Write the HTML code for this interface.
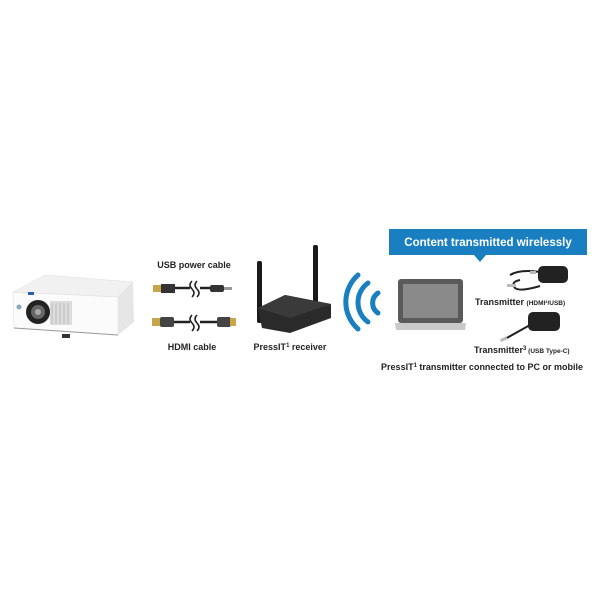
<!DOCTYPE html>
<html><head><style>
body{margin:0;background:#fff;width:600px;height:600px;overflow:hidden;font-family:"Liberation Sans",sans-serif}
</style></head><body>
<svg width="600" height="600" viewBox="0 0 600 600" xmlns="http://www.w3.org/2000/svg" font-family="Liberation Sans, sans-serif">
<!-- projector -->
<polygon points="13,292 45,275 133,282 118,297" fill="#f1f1f1" stroke="#ddd" stroke-width="0.5"/>
<polygon points="13,292 118,297 118,335 14,328" fill="#fbfbfb" stroke="#ddd" stroke-width="0.5"/>
<polygon points="118,297 133,282 134,322 118,335" fill="#e6e6e6"/>
<rect x="50" y="301" width="22" height="24" fill="#ddd"/>
<g stroke="#bbb" stroke-width="1"><line x1="52" y1="303" x2="52" y2="324"/><line x1="56" y1="303" x2="56" y2="324"/><line x1="60" y1="303" x2="60" y2="324"/><line x1="64" y1="303" x2="64" y2="324"/><line x1="68" y1="303" x2="68" y2="324"/></g>
<circle cx="38" cy="312" r="12" fill="#222"/><circle cx="38" cy="312" r="7" fill="#666"/><circle cx="38" cy="312" r="3" fill="#aaa"/>
<circle cx="19" cy="307" r="2.5" fill="#8ab"/>
<rect x="28" y="292" width="6" height="3" fill="#2a5fb0"/>
<rect x="62" y="334" width="8" height="4" fill="#333"/>
<line x1="14" y1="328" x2="118" y2="335" stroke="#999"/>
<!-- cables -->
<text x="194" y="268" font-size="9" font-weight="bold" text-anchor="middle" fill="#222">USB power cable</text>
<rect x="153" y="285" width="9" height="7" fill="#c9a54a"/><rect x="161" y="284" width="14" height="9" fill="#333"/>
<path d="M175 288 H190 M200 288 H222" stroke="#222" stroke-width="2.5" fill="none"/>
<path d="M192 281 q-4 4 0 8 q4 4 0 8 M197 281 q-4 4 0 8 q4 4 0 8" stroke="#222" stroke-width="1.5" fill="none"/>
<rect x="210" y="285" width="14" height="7" rx="2" fill="#333"/><rect x="224" y="287" width="8" height="3" fill="#999"/>
<rect x="152" y="318" width="9" height="8" fill="#c9a54a"/><rect x="160" y="317" width="14" height="10" rx="2" fill="#444"/>
<path d="M174 322 H190 M200 322 H218" stroke="#222" stroke-width="2.5" fill="none"/>
<path d="M192 315 q-4 4 0 8 q4 4 0 8 M197 315 q-4 4 0 8 q4 4 0 8" stroke="#222" stroke-width="1.5" fill="none"/>
<rect x="217" y="317" width="14" height="10" rx="2" fill="#444"/><rect x="230" y="318" width="6" height="8" fill="#c9a54a"/>
<text x="192" y="350" font-size="9" font-weight="bold" text-anchor="middle" fill="#222">HDMI cable</text>
<!-- router -->
<rect x="257" y="261" width="5" height="62" rx="2" fill="#1a1a1a"/>
<rect x="313" y="245" width="5" height="58" rx="2" fill="#1a1a1a"/>
<polygon points="258,308 285,295 331,304 331,318 290,333 262,328" fill="#2a2a2a"/>
<polygon points="258,308 285,295 331,304 290,318" fill="#3a3a3a"/>
<text x="290" y="350" font-size="9" font-weight="bold" text-anchor="middle" fill="#222">PressIT<tspan font-size="6" dy="-3">1</tspan><tspan dy="3"> receiver</tspan></text>
<!-- wifi -->
<g fill="none" stroke="#1a7fc1" stroke-linecap="round">
<path d="M378 293 A12 12 0 0 0 378 313" stroke-width="5"/>
<path d="M368 283 A24 24 0 0 0 368 322" stroke-width="5"/>
<path d="M358 275 A36 36 0 0 0 358 329" stroke-width="5"/>
</g>
<!-- laptop -->
<rect x="398" y="279" width="65" height="44" rx="3" fill="#5a5a5a"/>
<rect x="403" y="284" width="55" height="34" fill="#8a8a8a"/>
<polygon points="395,323 466,323 465,330 396,330" fill="#c9c9c9"/>
<!-- banner -->
<rect x="389" y="229" width="198" height="26" fill="#1a7fc1"/>
<polygon points="474,255 486,255 480,262" fill="#1a7fc1"/>
<text x="488" y="246" font-size="11.5" font-weight="bold" text-anchor="middle" fill="#fff">Content transmitted wirelessly</text>
<!-- transmitters -->
<path d="M520 280 q-10 2 -5 8 q5 4 25 -2" stroke="#222" stroke-width="2" fill="none"/>
<path d="M540 272 q-20 -3 -30 3" stroke="#222" stroke-width="2" fill="none"/>
<rect x="507" y="284" width="9" height="3" fill="#bbb"/>
<rect x="530" y="271" width="6" height="3" fill="#bbb"/>
<rect x="538" y="266" width="30" height="17" rx="5" fill="#222"/>
<text x="475" y="305" font-size="9" font-weight="bold" fill="#222">Transmitter <tspan font-size="6.5">(HDMI²/USB)</tspan></text>
<path d="M530 325 L505 339" stroke="#222" stroke-width="2"/>
<rect x="500" y="338" width="7" height="3" fill="#bbb" transform="rotate(-28 503 339)"/>
<rect x="528" y="312" width="32" height="19" rx="5" fill="#222"/>
<text x="474" y="353" font-size="9" font-weight="bold" fill="#222">Transmitter<tspan font-size="6" dy="-3">3</tspan><tspan dy="3" font-size="6.5"> (USB Type-C)</tspan></text>
<text x="482" y="370" font-size="9" font-weight="bold" text-anchor="middle" fill="#222">PressIT<tspan font-size="6" dy="-3">1</tspan><tspan dy="3"> transmitter connected to PC or mobile</tspan></text>
</svg>
</body></html>
